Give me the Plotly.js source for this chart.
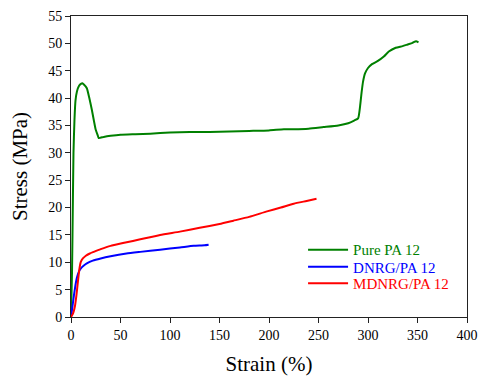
<!DOCTYPE html>
<html>
<head>
<meta charset="utf-8">
<script src="https://cdn.plot.ly/plotly-3.0.1.min.js"></script>
<style>
html,body{margin:0;padding:0;background:#fff;}#chart{width:479px;height:378px;}
#chart text{font-family:"Liberation Serif","DejaVu Serif",serif !important;}
</style>
</head>
<body>
<div id="chart"></div>
<script>
var seriesNames = ["Pure PA 12", "DNRG/PA 12", "MDNRG/PA 12"];
var pureStrain = [0, 1, 1.5, 2.5, 3.5, 4.5, 6, 8, 10, 11.5, 13, 16, 18.5, 21, 23, 25, 27, 28, 33, 40, 50, 65, 80, 100, 120, 140, 160, 180, 200, 215, 225, 240, 255, 270, 280, 286, 290, 292, 293.5, 295, 297, 300, 304, 310, 316, 321, 328, 335, 340, 345, 348.5, 351];
var pureStress = [0, 8, 15, 30, 36, 39.5, 41.2, 42.2, 42.6, 42.7, 42.5, 41.8, 40, 37.9, 36, 34.2, 33.2, 32.7, 32.9, 33.1, 33.3, 33.4, 33.5, 33.7, 33.8, 33.8, 33.9, 34, 34.1, 34.3, 34.3, 34.4, 34.7, 35, 35.4, 35.9, 36.3, 38.5, 41, 43, 44.5, 45.5, 46.2, 46.8, 47.6, 48.5, 49.2, 49.5, 49.8, 50.1, 50.4, 50.2];
var dnrgStrain = [0, 1.5, 3, 4.5, 6, 8, 10, 13, 16, 22, 30, 40, 56, 70, 90, 110, 124, 135, 139];
var dnrgStress = [0, 2, 4, 5.8, 7.2, 8.3, 8.9, 9.4, 9.8, 10.3, 10.7, 11.1, 11.6, 11.9, 12.3, 12.7, 13.0, 13.1, 13.2];
var mdnrgStrain = [0, 2, 4, 5.5, 7, 8.5, 10, 12, 15, 19, 23, 30, 40, 55, 70, 90, 110, 130, 150, 164, 180, 198, 212, 225, 238, 248];
var mdnrgStress = [0, 0.6, 2, 4, 6.5, 8.8, 10.1, 10.7, 11.2, 11.6, 11.9, 12.4, 13.0, 13.6, 14.2, 15.0, 15.6, 16.3, 17.0, 17.6, 18.3, 19.3, 20.0, 20.7, 21.2, 21.6];
var colors = ["#008000", "#0000ff", "#ff0000"];
var xs = [pureStrain, dnrgStrain, mdnrgStrain];
var ys = [pureStress, dnrgStress, mdnrgStress];
var legendIds = ['legend', 'legend2', 'legend3'];
var legendY = [0.223, 0.166, 0.111];

var serif = "Liberation Serif";

var traces = seriesNames.map(function(n, i){
  return {x: xs[i], y: ys[i], name: n, type: 'scatter', mode: 'lines', legend: legendIds[i],
    line: {color: colors[i], width: 2, shape: 'spline', smoothing: 0.5}};
});

var tickFont = {family: serif, size: 14, color: '#000'};
var layout = {
  width: 479, height: 378,
  margin: {l: 71, r: 12, t: 16, b: 61},
  paper_bgcolor: '#fff', plot_bgcolor: '#fff',
  font: tickFont,
  showlegend: true,
  xaxis: {range: [0, 400], dtick: 50, showgrid: false, zeroline: false,
    showline: true, mirror: true, linecolor: '#222', linewidth: 1,
    ticks: 'outside', ticklen: 5, tickcolor: '#222', tickfont: tickFont,
    title: {text: 'Strain (%)', font: {family: serif, size: 21, color: '#000'}, standoff: 14}},
  yaxis: {range: [0, 55], dtick: 5, showgrid: false, zeroline: false,
    showline: true, mirror: true, linecolor: '#222', linewidth: 1,
    ticks: 'outside', ticklen: 5, tickcolor: '#222', tickfont: tickFont,
    title: {text: 'Stress (MPa)', font: {family: serif, size: 21, color: '#000'}, standoff: 14}}
};
legendIds.forEach(function(id, i){
  layout[id] = {x: 0.586, y: legendY[i], xanchor: 'left', yanchor: 'middle', bgcolor: 'rgba(0,0,0,0)',
    itemwidth: 40, font: {family: serif, size: 15, color: colors[i]}};
});
Plotly.newPlot('chart', traces, layout, {displayModeBar: false, staticPlot: true});
</script>
</body>
</html>
